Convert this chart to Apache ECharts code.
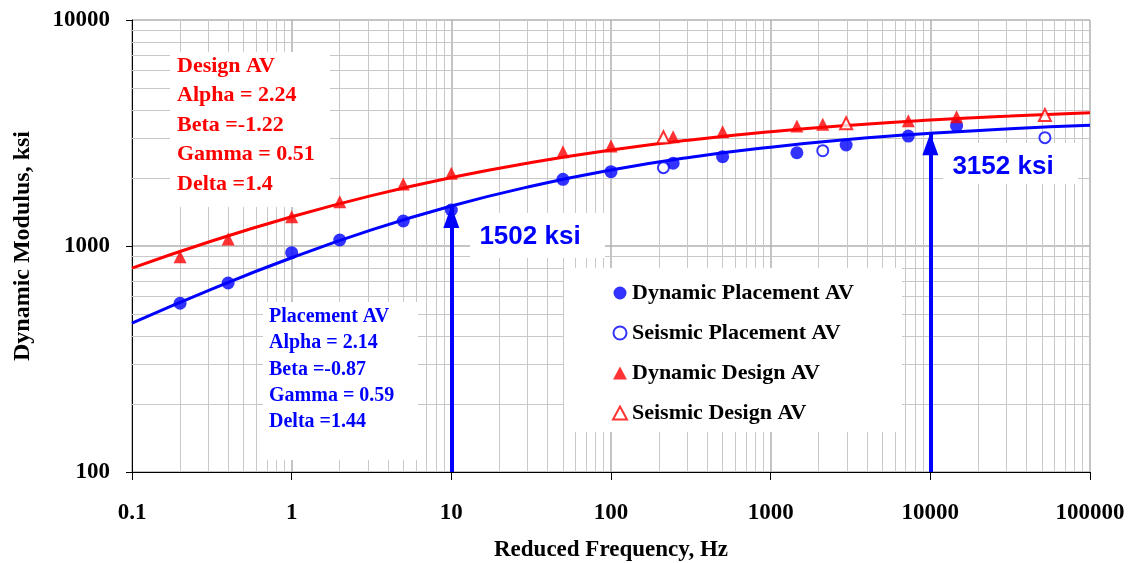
<!DOCTYPE html>
<html><head><meta charset="utf-8">
<script src="https://cdn.jsdelivr.net/npm/echarts@6/dist/echarts.min.js"></script>
<style>html,body{margin:0;padding:0;background:#fff}#c{width:1135px;height:563px}</style>
</head><body><div id="c"></div>
<script>
// ---- data ----
const X_TICK_LABELS = ['0.1', '1', '10', '100', '1000', '10000', '100000'];
const Y_TICK_LABELS = ['100', '1000', '10000'];

const CURVE_FREQ   = [0.1, 0.316, 1, 3.16, 10, 31.6, 100, 316, 1000, 3162, 10000, 31623, 100000];
const PLACEMENT_FIT = [456, 645, 887, 1178, 1503, 1839, 2168, 2471, 2737, 2966, 3152, 3303, 3421];
const DESIGN_FIT    = [798, 1052, 1347, 1671, 2008, 2341, 2657, 2947, 3203, 3422, 3607, 3762, 3886];

const DYN_PLACE_FREQ = [0.2, 0.4, 1, 2, 5, 10, 50, 100, 245, 500, 1460, 2970, 7280, 14600];
const DYN_PLACE_E    = [558, 686, 934, 1063, 1290, 1443, 1973, 2132, 2323, 2484, 2586, 2799, 3066, 3397];
const SEIS_PLACE_FREQ = [213, 2120, 52200];
const SEIS_PLACE_E    = [2221, 2640, 3016];
const DYN_DESIGN_FREQ = [0.2, 0.4, 1, 2, 5, 10, 50, 100, 245, 500, 1460, 2120, 7280, 14600];
const DYN_DESIGN_E    = [897, 1074, 1348, 1571, 1881, 2097, 2614, 2770, 3040, 3204, 3397, 3456, 3581, 3735];
const SEIS_DESIGN_FREQ = [213, 2970, 52200];
const SEIS_DESIGN_E    = [3027, 3491, 3800];

const ARROW_FREQ = [10, 10000];
const ARROW_E = [1502, 3152];
const ARROW_LABELS = ['1502 ksi', '3152 ksi'];

const DESIGN_TEXT = ['Design AV', 'Alpha = 2.24', 'Beta =-1.22', 'Gamma = 0.51', 'Delta =1.4'];
const PLACEMENT_TEXT = ['Placement AV', 'Alpha = 2.14', 'Beta =-0.87', 'Gamma = 0.59', 'Delta =1.44'];
const LEGEND_NAMES = ['Dynamic Placement AV', 'Seismic Placement AV', 'Dynamic Design AV', 'Seismic Design AV'];

const X_DECADES = [0.1, 1, 10, 100, 1000, 10000];
const Y_DECADES = [100, 1000];
const MINOR_MULT = [2, 3, 4, 5, 6, 7, 8, 9];

// ---- build ----
const zip = (a, b) => a.map((v, i) => [v, b[i]]);
const SERIF = '"Liberation Serif", "Times New Roman", serif';
const SANS = '"Liberation Sans", Arial, sans-serif';
const BLUE = '#0000FF', RED = '#FF0000';

const minorLines = [];
X_DECADES.forEach(d => MINOR_MULT.forEach(m => minorLines.push({ xAxis: +(d * m).toPrecision(6) })));
Y_DECADES.forEach(d => MINOR_MULT.forEach(m => minorLines.push({ yAxis: d * m })));

const chart = echarts.init(document.getElementById('c'), null, { renderer: 'canvas' });

const graphics = [];
function box(l, t, r, b) {
  graphics.push({ type: 'rect', z: 1.5, silent: true, shape: { x: l, y: t, width: r - l, height: b - t }, style: { fill: '#fff' } });
}
function txt(x, y, s, font, color, align) {
  graphics.push({ type: 'text', z: 1.6, silent: true, x: x, y: y,
    style: { text: s, font: font, fill: color, align: align || 'left', verticalAlign: 'middle' } });
}
// Design AV box
box(170, 52, 330, 207);
DESIGN_TEXT.forEach((s, i) => txt(177, 66 + i * 29.5, s, 'bold 22px ' + SERIF, RED));
// Placement AV box
box(263, 302, 418, 460);
PLACEMENT_TEXT.forEach((s, i) => txt(269, 317 + i * 26.2, s, 'bold 20px ' + SERIF, BLUE));
// Arrow value labels
box(470, 213, 605, 258);
txt(530, 237, ARROW_LABELS[0], 'bold 26px ' + SANS, BLUE, 'center');
box(943, 143, 1078, 184);
txt(1003, 167, ARROW_LABELS[1], 'bold 26px ' + SANS, BLUE, 'center');

const option = {
  animation: false,
  backgroundColor: '#fff',
  grid: { left: 132, right: 45, top: 20, bottom: 91, containLabel: false, outerBoundsMode: 'none' },
  xAxis: {
    type: 'log', logBase: 10, min: 0.1, max: 100000,
    name: 'Reduced Frequency, Hz', nameLocation: 'middle', nameGap: 67,
    nameTextStyle: { fontFamily: SERIF, fontWeight: 'bold', fontSize: 23, color: '#000' },
    axisLine: { show: true, onZero: false, lineStyle: { color: '#000', width: 1 } },
    axisTick: { show: true, length: 8, lineStyle: { color: '#000' } },
    axisLabel: { margin: 30, fontFamily: SERIF, fontWeight: 'bold', fontSize: 23, color: '#000',
      formatter: v => X_TICK_LABELS[Math.round(Math.log10(v)) + 1] },
    splitLine: { show: true, lineStyle: { color: '#B0B0B0', width: 1.5 } }
  },
  yAxis: {
    type: 'log', logBase: 10, min: 100, max: 10000,
    name: 'Dynamic Modulus, ksi', nameLocation: 'middle', nameGap: 97,
    nameTextStyle: { fontFamily: SERIF, fontWeight: 'bold', fontSize: 24, color: '#000' },
    axisLine: { show: true, onZero: false, lineStyle: { color: '#000', width: 1 } },
    axisTick: { show: true, length: 6, lineStyle: { color: '#000' } },
    axisLabel: { margin: 22, fontFamily: SERIF, fontWeight: 'bold', fontSize: 23, color: '#000',
      formatter: v => Y_TICK_LABELS[Math.round(Math.log10(v)) - 2] },
    splitLine: { show: true, lineStyle: { color: '#B0B0B0', width: 1.5 } }
  },
  legend: {
    data: LEGEND_NAMES, orient: 'vertical', left: 564, top: 268,
    padding: [11, 48, 5, 48], itemGap: 12, itemWidth: 14, itemHeight: 13,
    backgroundColor: '#fff', selectedMode: false,
    textStyle: { fontFamily: SERIF, fontWeight: 'bold', fontSize: 22, color: '#000', lineHeight: 28 }
  },
  graphic: { elements: graphics },
  series: [
    { name: 'minor-grid', type: 'line', z: 1, data: [], silent: true,
      markLine: { z: 1, silent: true, symbol: ['none', 'none'], label: { show: false }, animation: false,
        lineStyle: { color: '#C8C8C8', width: 1, type: 'solid' }, emphasis: { disabled: true }, data: minorLines } },
    { name: 'Design fit', type: 'line', z: 3, data: zip(CURVE_FREQ, DESIGN_FIT), smooth: true, showSymbol: false,
      symbol: 'none', lineStyle: { color: RED, width: 3 }, itemStyle: { color: RED } },
    { name: 'Placement fit', type: 'line', z: 3, data: zip(CURVE_FREQ, PLACEMENT_FIT), smooth: true, showSymbol: false,
      symbol: 'none', lineStyle: { color: BLUE, width: 3 }, itemStyle: { color: BLUE } },
    { name: 'arrows', type: 'line', z: 4, data: [], silent: true,
      markLine: { z: 4, silent: true, symbol: ['none', 'none'], label: { show: false }, animation: false,
        lineStyle: { color: BLUE, width: 4, type: 'solid' }, emphasis: { disabled: true },
        data: ARROW_FREQ.map((f, i) => [{ coord: [f, 100] }, { coord: [f, ARROW_E[i]] }]) },
      markPoint: { z: 4, silent: true, symbol: 'triangle', symbolSize: [16, 22], symbolOffset: [0, 11], animation: false,
        itemStyle: { color: BLUE }, label: { show: false },
        data: ARROW_FREQ.map((f, i) => ({ coord: [f, ARROW_E[i]] })) } },
    { name: LEGEND_NAMES[0], type: 'scatter', z: 5, symbol: 'circle', symbolSize: 13,
      itemStyle: { color: BLUE }, data: zip(DYN_PLACE_FREQ, DYN_PLACE_E) },
    { name: LEGEND_NAMES[1], type: 'scatter', z: 5, symbol: 'emptyCircle', symbolSize: 11,
      itemStyle: { color: BLUE, borderColor: BLUE, borderWidth: 1.5 }, data: zip(SEIS_PLACE_FREQ, SEIS_PLACE_E) },
    { name: LEGEND_NAMES[2], type: 'scatter', z: 5, symbol: 'triangle', symbolSize: 13,
      itemStyle: { color: RED }, data: zip(DYN_DESIGN_FREQ, DYN_DESIGN_E) },
    { name: LEGEND_NAMES[3], type: 'scatter', z: 5, symbol: 'emptyTriangle', symbolSize: 12,
      itemStyle: { color: RED, borderColor: RED, borderWidth: 1.5 }, data: zip(SEIS_DESIGN_FREQ, SEIS_DESIGN_E) }
  ]
};
chart.setOption(option);
</script>
</body></html>
